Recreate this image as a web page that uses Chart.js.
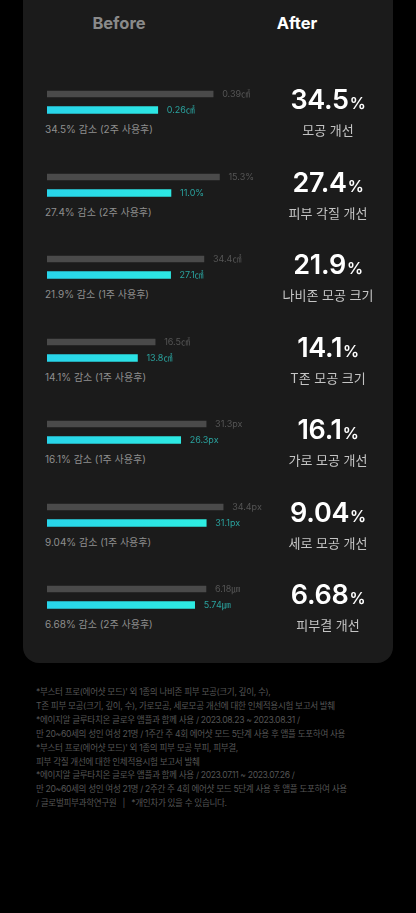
<!DOCTYPE html>
<html lang="ko">
<head>
<meta charset="utf-8">
<script src="https://cdn.jsdelivr.net/npm/chart.js@4.4.1/dist/chart.umd.min.js"></script>
<style>
  html, body { margin: 0; padding: 0; background: #000; }
  body { width: 416px; height: 913px; position: relative; overflow: hidden;
         font-family: Inter, "Noto Sans CJK KR", sans-serif; }
  .card { position: absolute; left: 23px; top: -20px; width: 370px; height: 683px;
          background: #1b1b1b; border-radius: 16px; }
  .head { position: absolute; top: 12px; font-size: 16.5px; font-weight: 700; width: 120px;
          text-align: center; line-height: 22px; }
  .row { position: absolute; left: 0; width: 416px; height: 80px; }
  .row canvas { position: absolute; left: 47px; top: 0; }
  .cap { position: absolute; left: 45px; top: 36px; font-size: 10px; color: #8e8e8e; line-height: 14px; }
  .big { position: absolute; left: 248px; width: 160px; text-align: center; top: -3px;
         font-size: 27px; font-weight: 600; color: #fff; line-height: 34px; letter-spacing: -0.3px; }
  .big small { font-size: 16px; font-weight: 600; margin-left: 1px; }
  .lbl { position: absolute; left: 248px; width: 160px; text-align: center; top: 35px;
         font-size: 13px; color: #c4c4c4; line-height: 18px; }
  .notes { position: absolute; left: 36px; top: 686px; font-size: 8.6px; color: #555;
           line-height: 13.9px; letter-spacing: -0.35px; white-space: nowrap; }
</style>
</head>
<body>
<div class="card"></div>
<div class="head" style="left:59px;color:#8a8a8a">Before</div>
<div class="head" style="left:237px;color:#fff">After</div>
<div id="rows"></div>
<div class="notes" id="notes"></div>
<script>
const metrics = ['모공 개선', '피부 각질 개선', '나비존 모공 크기', 'T존 모공 크기', '가로 모공 개선', '세로 모공 개선', '피부결 개선'];
const beforeValues = [0.39, 15.3, 34.4, 16.5, 31.3, 34.4, 6.18];
const afterValues = [0.26, 11.0, 27.1, 13.8, 26.3, 31.1, 5.74];
const units = ['㎠', '%', '㎠', '㎠', 'px', 'px', '㎛'];
const decimals = [2, 1, 1, 1, 1, 1, 2];
const improvements = ['34.5', '27.4', '21.9', '14.1', '16.1', '9.04', '6.68'];
const periods = ['2주', '2주', '1주', '1주', '1주', '1주', '2주'];
// per-chart axis maximum (each metric has its own unit)
const axisMax = [0.50, 18.9, 46.7, 32.5, 41.9, 41.6, 8.28];
const footnotes = [
  "*부스터 프로(에어샷 모드)' 외 1종의 나비존 피부 모공(크기, 깊이, 수),",
  'T존 피부 모공(크기, 깊이, 수), 가로모공, 세로모공 개선에 대한 인체적용시험 보고서 발췌',
  '*에이지알 글루타치온 글로우 앰플과 함께 사용 / 2023.08.23 ~ 2023.08.31 /',
  '만 20~60세의 성인 여성 21명 / 1주간 주 4회 에어샷 모드 5단계 사용 후 앰플 도포하여 사용',
  "*부스터 프로(에어샷 모드)' 외 1종의 피부 모공 부피, 피부결,",
  '피부 각질 개선에 대한 인체적용시험 보고서 발췌',
  '*에이지알 글루타치온 글로우 앰플과 함께 사용 / 2023.07.11 ~ 2023.07.26 /',
  '만 20~60세의 성인 여성 21명 / 2주간 주 4회 에어샷 모드 5단계 사용 후 앰플 도포하여 사용',
  '/ 글로벌피부과학연구원 \u00a0 | \u00a0 *개인차가 있을 수 있습니다.'
];

document.getElementById('notes').innerHTML = footnotes.map(t => '<div>' + t + '</div>').join('');

const valueLabels = {
  id: 'valueLabels',
  afterDatasetsDraw(chart) {
    const c = chart.ctx;
    const i = chart.options.plugins.valueLabels.index;
    c.save();
    c.font = '9px Inter, "Noto Sans CJK KR", sans-serif';
    c.textBaseline = 'middle';
    chart.data.datasets.forEach((ds, d) => {
      chart.getDatasetMeta(d).data.forEach((bar, j) => {
        if (ds.data[j] == null) return;
        c.fillStyle = d === 0 ? '#555555' : '#2aa29e';
        c.fillText(ds.data[j].toFixed(decimals[i]) + units[i], bar.x + 9, bar.y + 0.5);
      });
    });
    c.restore();
  }
};

const rows = document.getElementById('rows');
metrics.forEach((name, i) => {
  const row = document.createElement('div');
  row.className = 'row';
  row.style.top = Math.round(86 + 82.5 * i) + 'px';
  row.innerHTML =
    '<canvas width="240" height="32"></canvas>' +
    '<div class="cap">' + improvements[i] + '% 감소 (' + periods[i] + ' 사용후)</div>' +
    '<div class="big">' + improvements[i] + '<small>%</small></div>' +
    '<div class="lbl">' + name + '</div>';
  rows.appendChild(row);

  new Chart(row.querySelector('canvas'), {
    type: 'bar',
    data: {
      labels: ['Before', 'After'],
      datasets: [
        { data: [beforeValues[i], null], backgroundColor: '#4a4a4a', barThickness: 6 },
        {
          data: [null, afterValues[i]],
          barThickness: 7,
          backgroundColor: ctx => {
            const area = ctx.chart.chartArea;
            if (!area) return '#2ae6e6';
            const g = ctx.chart.ctx.createLinearGradient(area.left, 0, area.right, 0);
            g.addColorStop(0, '#28d4ea');
            g.addColorStop(1, '#30f6de');
            return g;
          }
        }
      ]
    },
    options: {
      indexAxis: 'y',
      responsive: false,
      animation: false,
      grouped: false,
      layout: { padding: { left: 0, right: 27, top: 0, bottom: 0 } },
      scales: {
        x: { display: false, min: 0, max: axisMax[i] },
        y: { display: false }
      },
      plugins: {
        legend: { display: false },
        tooltip: { enabled: false },
        valueLabels: { index: i }
      }
    },
    plugins: [valueLabels]
  });
});
</script>
</body>
</html>
